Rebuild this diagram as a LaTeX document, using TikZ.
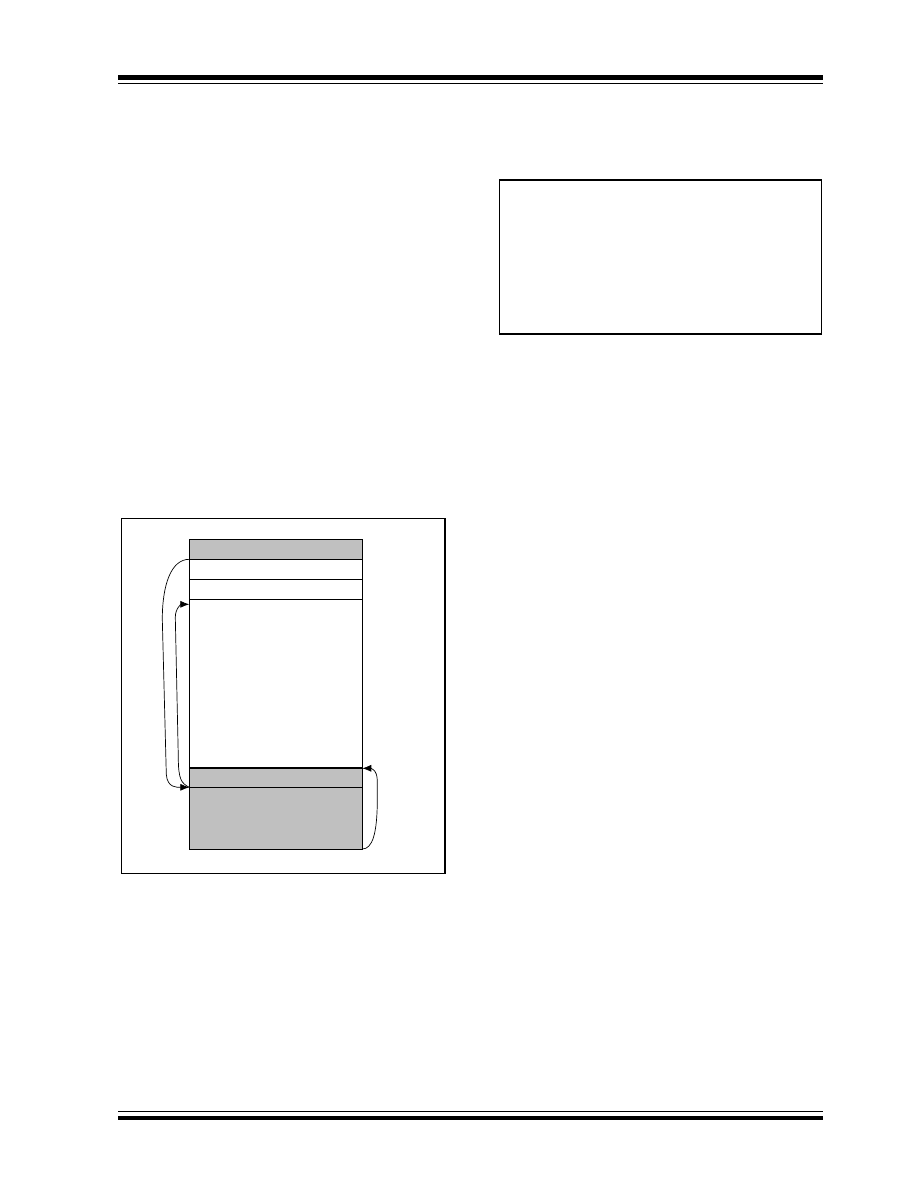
\documentclass[tikz,border=0pt]{standalone}
\usetikzlibrary{positioning, arrows.meta}
\definecolor{memgray}{HTML}{C0C0C0}

\begin{document}
\begin{tikzpicture}[
    x=1pt, y=-1pt,
    cell/.style={rectangle, draw=black, line width=1pt, minimum width=173pt, inner sep=0pt, outer sep=0pt},
    frame/.style={rectangle, draw=black, line width=1.1pt, inner sep=0pt, outer sep=0pt},
    jump/.style={line width=0.7pt, -{Latex[length=9pt, width=7pt]}},
]
    \useasboundingbox (0,0) rectangle (918,1188);

    % Page rules
    \fill (118,75) rectangle (823,80);
    \draw[line width=1pt] (118,83.3) -- (823,83.3);
    \draw[line width=1pt] (118,1111.3) -- (823,1111.3);
    \fill (118,1115.7) rectangle (823,1120);

    % Frames
    \node[frame, minimum width=322pt, minimum height=154pt] (note) at (660.3,257) {};
    \node[frame, minimum width=323.5pt, minimum height=355pt] (fig) at (283.2,695.6) {};

    % Nodes
    \node[cell, fill=memgray, minimum height=20pt] (hdr) at (275.8,549.3) {};
    \node[cell, minimum height=20pt] (rowA) [below=0pt of hdr] {};
    \node[cell, minimum height=20pt] (rowB) [below=0pt of rowA] {};
    \node[cell, minimum height=169pt] (free) [below=0pt of rowB] {};
    \node[cell, fill=memgray, minimum height=19pt] (stk) [below=0pt of free] {};
    \node[cell, fill=memgray, minimum height=61.7pt] (base) [below=0pt of stk] {};
    \draw[line width=2pt] (stk.north west) -- (stk.north east);

    % Lines
    \draw[jump] (hdr.south west) .. controls +(-18,0) and +(0,-35) .. ++(-27,60)
        -- ++(4,155) .. controls +(1,14) and +(-12,0) .. (base.north west);
    \draw[jump] (base.north west) .. controls +(-8,-4) and +(0,22) .. ++(-11,-30)
        -- ++(-3,-140) .. controls +(0,-9) and +(-8,0) .. ([yshift=-5pt]free.north west);
    \draw[jump] (base.south east) .. controls +(10,0) and +(0,35) .. ++(15,-50)
        -- ++(0,-18) .. controls +(0,-12) and +(8,0) .. (stk.north east);
\end{tikzpicture}
\end{document}
